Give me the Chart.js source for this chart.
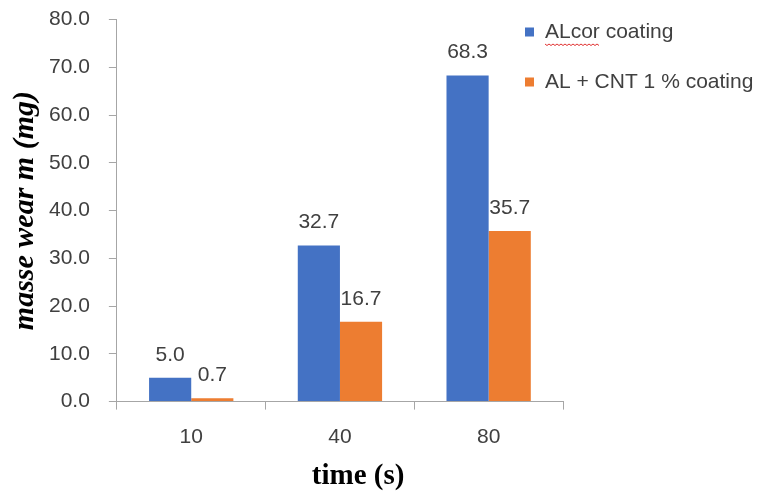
<!DOCTYPE html>
<html>
<head>
<meta charset="utf-8">
<script src="https://cdn.jsdelivr.net/npm/chart.js@4.4.0/dist/chart.umd.min.js"></script>
<style>
  body { margin: 0; background: #fff; }
  #wrap { width: 758px; height: 491px; }
</style>
</head>
<body>
<div id="wrap"><canvas id="wearChart" width="758" height="491"></canvas></div>
<script>
// data
var times = ['10', '40', '80'];
var alcorWear = [5.0, 32.7, 68.3];
var cntWear = [0.7, 16.7, 35.7];
var seriesNames = ['ALcor coating', 'AL + CNT 1 % coating'];
var seriesColors = ['#4472C4', '#ED7D31'];

var sansFont = "'Liberation Sans', Arial, sans-serif";
var serifFont = "'Liberation Serif', 'Times New Roman', serif";

// numbers above each bar
var valueLabels = {
    id: 'valueLabels',
    afterDatasetsDraw: function (chart) {
        var ctx = chart.ctx;
        ctx.save();
        ctx.font = '21px ' + sansFont;
        ctx.fillStyle = '#404040';
        ctx.textAlign = 'center';
        ctx.textBaseline = 'alphabetic';
        chart.data.datasets.forEach(function (ds, i) {
            var meta = chart.getDatasetMeta(i);
            meta.data.forEach(function (bar, j) {
                ctx.fillText(ds.data[j].toFixed(1), bar.x, bar.y - 17);
            });
        });
        ctx.restore();
    }
};

// legend sits over the right end of the plot, like the original
var sideLegend = {
    id: 'sideLegend',
    afterDraw: function (chart) {
        var ctx = chart.ctx;
        var x = 525, y0 = 32, gap = 50;
        ctx.save();
        ctx.font = '21px ' + sansFont;
        ctx.textBaseline = 'middle';
        ctx.textAlign = 'left';
        chart.data.datasets.forEach(function (ds, i) {
            var y = y0 + i * gap;
            ctx.fillStyle = ds.backgroundColor;
            ctx.fillRect(x, y - 4.5, 9, 9);
            ctx.fillStyle = '#404040';
            ctx.fillText(ds.label, x + 20, y);
            if (i === 0) {
                // spell-check squiggle under "ALcor"
                var w = ctx.measureText('ALcor').width;
                ctx.strokeStyle = '#e03030';
                ctx.lineWidth = 1;
                ctx.beginPath();
                for (var k = 0; k <= w; k += 2) {
                    var yy = y + 12 + ((k / 2) % 2 === 0 ? 0 : 1.5);
                    if (k === 0) ctx.moveTo(x + 20 + k, yy); else ctx.lineTo(x + 20 + k, yy);
                }
                ctx.stroke();
            }
        });
        ctx.restore();
    }
};

var ctx = document.getElementById('wearChart');
var wearChart = new Chart(ctx, {
    type: 'bar',
    data: {
        labels: times,
        datasets: [{
            label: seriesNames[0],
            data: alcorWear,
            backgroundColor: seriesColors[0]
        }, {
            label: seriesNames[1],
            data: cntWear,
            backgroundColor: seriesColors[1]
        }]
    },
    options: {
        responsive: false,
        animation: false,
        devicePixelRatio: 1,
        layout: {
            padding: { left: 0, right: 195, top: 0, bottom: 3 }
        },
        datasets: {
            bar: {
                categoryPercentage: 0.567,
                barPercentage: 1.0
            }
        },
        plugins: {
            legend: { display: false },
            tooltip: { enabled: false }
        },
        scales: {
            x: {
                grid: {
                    offset: true,
                    drawOnChartArea: false,
                    tickLength: 8,
                    color: '#a6a6a6'
                },
                border: { color: '#a6a6a6' },
                ticks: {
                    color: '#404040',
                    font: { family: sansFont, size: 21 },
                    padding: 15
                },
                title: {
                    display: true,
                    // leading spaces nudge the title right, as in the original
                    text: '     time (s)',
                    color: '#000',
                    font: { family: serifFont, size: 29, weight: 'bold', lineHeight: 0.8 },
                    padding: { top: 0, bottom: 0 }
                }
            },
            y: {
                min: 0,
                max: 80,
                grid: {
                    drawOnChartArea: false,
                    tickLength: 8,
                    color: '#a6a6a6'
                },
                border: { color: '#a6a6a6' },
                ticks: {
                    stepSize: 10,
                    color: '#404040',
                    // tiny lineHeight keeps the top label from pushing the plot down
                    font: { family: sansFont, size: 21, lineHeight: 0.05 },
                    padding: 19,
                    callback: function (v) { return v.toFixed(1); }
                },
                title: {
                    display: true,
                    text: 'masse wear m (mg)',
                    color: '#000',
                    font: { family: serifFont, size: 30, weight: 'bold', style: 'italic', lineHeight: 1 },
                    padding: { top: 10, bottom: -10 }
                }
            }
        }
    },
    plugins: [valueLabels, sideLegend]
});
</script>
</body>
</html>
